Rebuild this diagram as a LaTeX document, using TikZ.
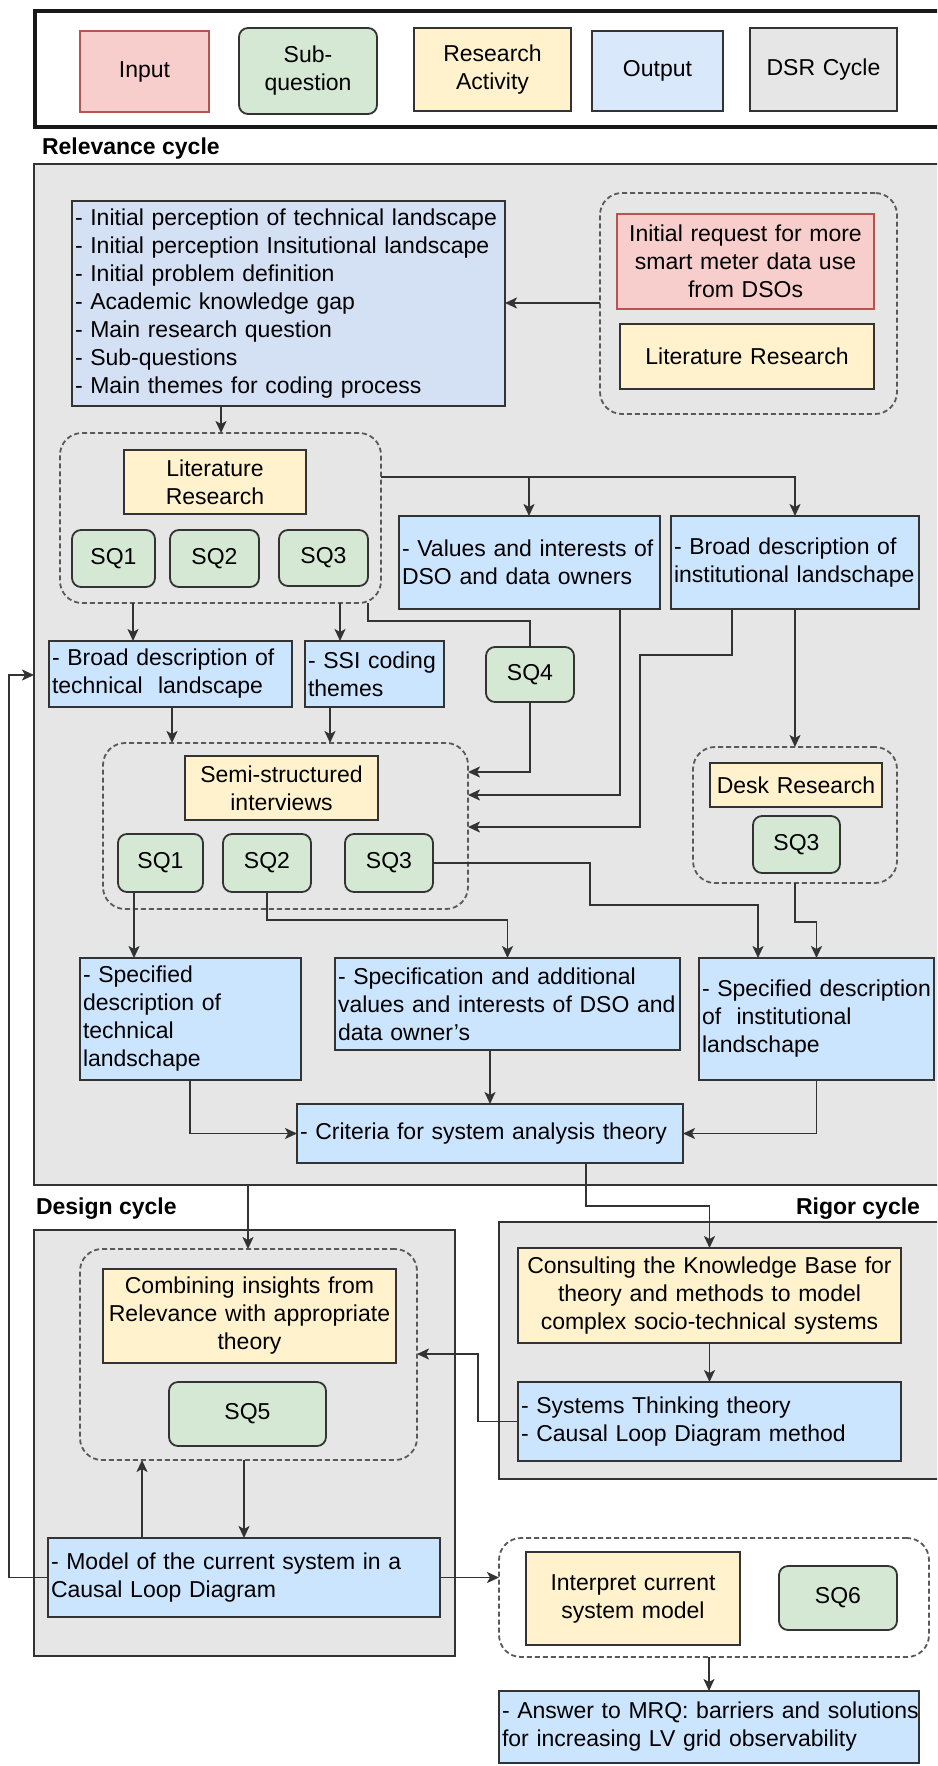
\documentclass[tikz,border=0pt]{standalone}
\usepackage{fontspec}
\setmainfont{Liberation Sans}
\usetikzlibrary{arrows.meta}

\definecolor{inFill}{HTML}{F8CECC}
\definecolor{inLine}{HTML}{B85450}
\definecolor{sqFill}{HTML}{D5E8D4}
\definecolor{actFill}{HTML}{FFF2CC}
\definecolor{outFill}{HTML}{CCE5FF}
\definecolor{outPale}{HTML}{DAE8FC}
\definecolor{listFill}{HTML}{D4E1F5}
\definecolor{cycFill}{HTML}{E6E6E6}
\definecolor{edge}{HTML}{333333}
\definecolor{dashc}{HTML}{595959}

\newcommand\bodyfont{\fontsize{23}{28}\selectfont}
% one unbreakable text line
\newcommand\oneline[1]{\mbox{#1}}

\begin{document}
\begin{tikzpicture}[x=1pt, y=-1pt,
  every node/.style={font=\bodyfont, outer sep=0pt},
  % box given by its corners: x1, y1, x2, y2
  spanbox/.code n args={4}{%
    \pgfmathsetmacro\sbw{#3-#1}%
    \pgfmathsetmacro\sbh{#4-#2}%
    \pgfmathsetmacro\sbt{#3-#1-6}%
    \edef\sbtmp{\noexpand\tikzset{at={(#1,#2)},minimum width=\sbw pt,minimum height=\sbh pt,text width=\sbt pt}}%
    \sbtmp},
  base/.style={draw=edge, line width=1.8pt, anchor=north west, inner xsep=3pt, inner ysep=0pt},
  inbox/.style={base, fill=inFill, draw=inLine, align=center},
  subq/.style={base, fill=sqFill, rounded corners=9pt, align=center},
  act/.style={base, fill=actFill, align=center},
  outbox/.style={base, fill=outFill, align=left},
  cycbox/.style={base, fill=cycFill, align=center},
  panel/.style={base, fill=cycFill, line width=2.4pt},
  grp/.style={base, draw=dashc, dash pattern=on 5pt off 3pt, rounded corners=22pt},
  lbl/.style={font=\bodyfont\bfseries, inner sep=0pt},
  arr/.style={draw=edge, line width=1.9pt, -{Stealth[length=12pt,width=11pt,inset=3pt]}},
  lnk/.style={draw=edge, line width=1.9pt},
]
\useasboundingbox (0,0) rectangle (937,1766);
\clip (0,0) rectangle (937,1766);
\fill[white] (0,0) rectangle (937,1766);

% ---------- legend ----------
\node[base, fill=white, line width=3.2pt, draw=black!90, spanbox={35}{11}{950}{127}] (legend) {};
\node[inbox, spanbox={80}{31}{209}{112}] (lgIn) {Input};
\node[subq, spanbox={239}{28}{377}{114}] (lgSq) {Sub-\\question};
\node[act, spanbox={414}{28}{571}{111}] (lgAct) {Research\\Activity};
\node[outbox, fill=outPale, align=center, spanbox={592}{31}{723}{111}] (lgOut) {Output};
\node[cycbox, spanbox={750}{28}{897}{111}] (lgCyc) {DSR Cycle};

% ---------- relevance cycle ----------
\node[lbl, anchor=west] (relLbl) at (42,149) {Relevance cycle};
\node[panel, spanbox={34}{164}{950}{1185}] (rel) {};

\node[outbox, fill=listFill, spanbox={72}{201}{505}{406}] (init) {\oneline{- Initial perception of technical landscape}\\\oneline{- Initial perception Insitutional landscape}\\- Initial problem definition\\- Academic knowledge gap\\- Main research question\\- Sub-questions\\- Main themes for coding process};

\node[grp, spanbox={600}{193}{897}{414}] (grpA) {};
\node[inbox, spanbox={617}{214}{874}{309}] (req) {Initial request for more\\smart meter data use\\from DSOs};
\node[act, spanbox={620}{324}{874}{389}] (litA) {Literature Research};

\node[grp, spanbox={60}{433}{381}{603}] (grpB) {};
\node[act, spanbox={124}{450}{306}{514}] (litB) {Literature\\Research};
\node[subq, spanbox={72}{530}{155}{587}] (sqBa) {SQ1};
\node[subq, spanbox={170}{530}{259}{587}] (sqBb) {SQ2};
\node[subq, spanbox={279}{530}{368}{586}] (sqBc) {SQ3};

\node[outbox, spanbox={399}{516}{660}{609}] (vals) {\oneline{- Values and interests of}\\DSO and data owners};
\node[outbox, spanbox={671}{516}{919}{609}] (binst) {- Broad description of\\\oneline{institutional landschape}};
\node[outbox, spanbox={49}{641}{292}{707}] (btech) {- Broad description of\\technical\ \ landscape};
\node[outbox, spanbox={305}{641}{444}{707}] (ssi) {- SSI coding\\themes};
\node[subq, spanbox={486}{647}{574}{702}] (sqFour) {SQ4};

\node[grp, spanbox={103}{743}{468}{909}] (grpC) {};
\node[act, spanbox={185}{756}{378}{820}] (semi) {Semi-structured\\interviews};
\node[subq, spanbox={118}{834}{203}{892}] (sqCa) {SQ1};
\node[subq, spanbox={223}{834}{311}{892}] (sqCb) {SQ2};
\node[subq, spanbox={345}{834}{433}{892}] (sqCc) {SQ3};

\node[grp, spanbox={693}{747}{897}{883}] (grpD) {};
\node[act, spanbox={710}{763}{882}{807}] (desk) {Desk Research};
\node[subq, spanbox={753}{816}{840}{873}] (sqD) {SQ3};

\node[outbox, spanbox={80}{958}{301}{1080}] (stech) {- Specified\\description of\\technical\\landschape};
\node[outbox, spanbox={335}{958}{680}{1050}] (spec) {\oneline{- Specification and additional}\\\oneline{values and interests of DSO and}\\data owner's};
\node[outbox, spanbox={699}{958}{934}{1080}] (sinst) {\oneline{- Specified description}\\of\ \ institutional\\landschape};
\node[outbox, spanbox={297}{1104}{683}{1163}] (crit) {- Criteria for system analysis theory};

% ---------- design cycle ----------
\node[lbl, anchor=west] (desLbl) at (36,1209) {Design cycle};
\node[panel, spanbox={34}{1230}{455}{1656}] (des) {};
\node[grp, spanbox={80}{1249}{417}{1460}] (grpE) {};
\node[act, spanbox={103}{1269}{396}{1363}] (comb) {Combining insights from\\\oneline{Relevance with appropriate}\\theory};
\node[subq, spanbox={169}{1382}{326}{1446}] (sqFive) {SQ5};
\node[outbox, spanbox={48}{1538}{440}{1617}] (model) {- Model of the current system in a\\Causal Loop Diagram};

% ---------- rigor cycle ----------
\node[lbl, anchor=east] (rigLbl) at (920,1209) {Rigor cycle};
\node[panel, spanbox={499}{1222}{950}{1479}] (rig) {};
\node[act, spanbox={518}{1248}{901}{1343}] (cons) {\oneline{Consulting the Knowledge Base for}\\theory and methods to model\\complex socio-technical systems};
\node[outbox, spanbox={518}{1382}{901}{1461}] (syst) {- Systems Thinking theory\\- Causal Loop Diagram method};

% ---------- interpretation ----------
\node[grp, spanbox={499}{1538}{929}{1657}] (grpF) {};
\node[act, spanbox={526}{1552}{740}{1645}] (interp) {Interpret current\\system model};
\node[subq, spanbox={779}{1566}{897}{1630}] (sqSix) {SQ6};
\node[outbox, spanbox={499}{1691}{919}{1763}] (answer) {\oneline{- Answer to MRQ: barriers and solutions}\\for increasing LV grid observability};

% ---------- connectors ----------
\draw[arr] (grpA.west |- 0,303) -- (init.east |- 0,303);
\draw[arr] (221,0 |- init.south) -- (221,0 |- grpB.north);
\draw[arr] (grpB.east |- 0,477) -| (529,0 |- vals.north);
\draw[arr] (grpB.east |- 0,477) -| (795,0 |- binst.north);
\draw[arr] (133,0 |- grpB.south) -- (133,0 |- btech.north);
\draw[arr] (340,0 |- grpB.south) -- (340,0 |- ssi.north);
\draw[lnk] (368,0 |- grpB.south) |- (sqFour.north |- 0,621) -- (sqFour.north);
\draw[arr] (172,0 |- btech.south) -- (172,0 |- grpC.north);
\draw[arr] (330,0 |- ssi.south) -- (330,0 |- grpC.north);
\draw[arr] (sqFour.south) |- (grpC.east |- 0,772);
\draw[arr] (620,0 |- vals.south) |- (grpC.east |- 0,795);
\draw[arr] (732,0 |- binst.south) |- (640,655) |- (grpC.east |- 0,827);
\draw[arr] (795,0 |- binst.south) -- (795,0 |- grpD.north);
\draw[arr] (134,0 |- sqCa.south) -- (134,0 |- stech.north);
\draw[arr] (sqCb.south) |- (spec.north |- 0,920) -- (spec.north);
\draw[arr] (sqCc.east) -| (590,905) -| (758,0 |- sinst.north);
\draw[arr] (795,0 |- grpD.south) |- (sinst.north |- 0,922) -- (sinst.north);
\draw[arr] (190,0 |- stech.south) |- (crit.west);
\draw[arr] (490,0 |- spec.south) -- (490,0 |- crit.north);
\draw[arr] (sinst.south) |- (crit.east);
\draw[arr] (586,0 |- crit.south) |- (cons.north |- 0,1206) -- (cons.north);
\draw[arr] (248,0 |- rel.south) -- (248,0 |- grpE.north);
\draw[arr] (cons.south) -- (syst.north);
\draw[arr] (syst.west) -| (478,1354) -- (grpE.east |- 0,1354);
\draw[arr] (244,0 |- grpE.south) -- (244,0 |- model.north);
\draw[arr] (142,0 |- model.north) -- (142,0 |- grpE.south);
\draw[arr] (model.west) -| (9,675) -- (rel.west |- 0,675);
\draw[arr] (model.east) -- (model.east -| grpF.west);
\draw[arr] (709,0 |- grpF.south) -- (709,0 |- answer.north);
\end{tikzpicture}
\end{document}
